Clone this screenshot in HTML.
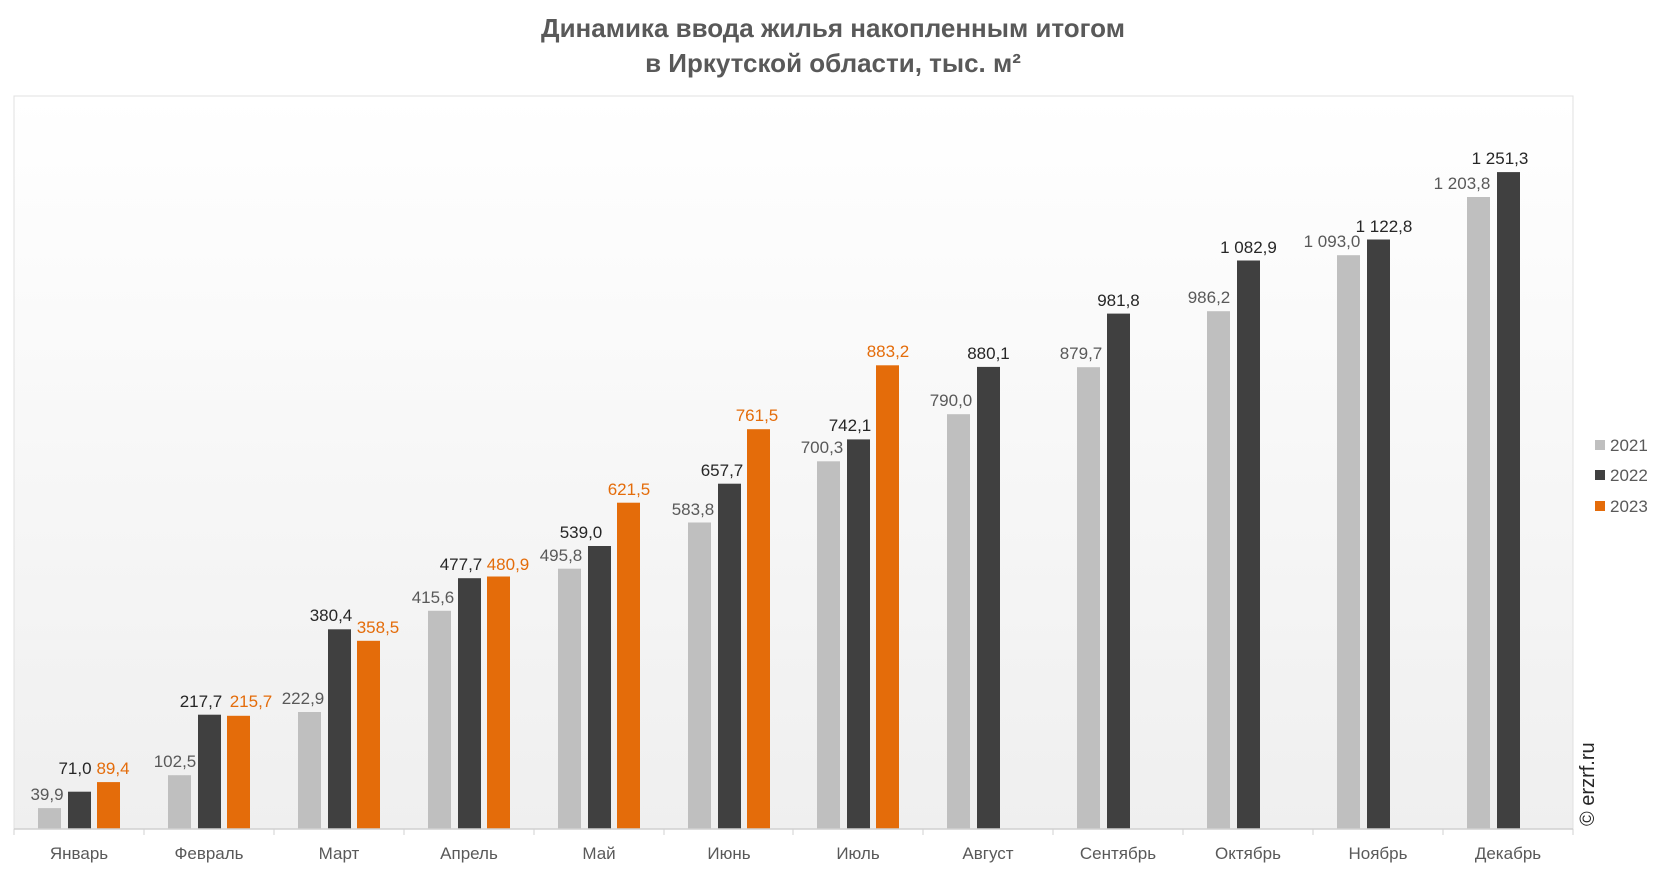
<!DOCTYPE html>
<html><head><meta charset="utf-8"><style>
html,body{margin:0;padding:0;background:#fff;}
svg{display:block;font-family:"Liberation Sans",sans-serif;}
</style></head><body>
<svg width="1666" height="872" viewBox="0 0 1666 872" xmlns="http://www.w3.org/2000/svg">
<defs><linearGradient id="bg" x1="0" y1="0" x2="0" y2="1"><stop offset="0" stop-color="#ffffff"/><stop offset="1" stop-color="#efefef"/></linearGradient></defs>
<rect x="0" y="0" width="1666" height="872" fill="#fff"/>
<text x="833" y="37" text-anchor="middle" font-size="26" font-weight="bold" fill="#595959">Динамика ввода жилья накопленным итогом</text>
<text x="833" y="72" text-anchor="middle" font-size="26" font-weight="bold" fill="#595959">в Иркутской области, тыс. м²</text>
<rect x="14" y="96" width="1559" height="733" fill="url(#bg)" stroke="#e0e0e0" stroke-width="1"/>
<g fill="#bfbfbf">
<rect x="38" y="808.1" width="23" height="20.9"/><rect x="168" y="775.2" width="23" height="53.8"/><rect x="298" y="712" width="23" height="117"/><rect x="428" y="610.8" width="23" height="218.2"/><rect x="558" y="568.7" width="23" height="260.3"/><rect x="688" y="522.5" width="23" height="306.5"/><rect x="817" y="461.3" width="23" height="367.7"/><rect x="947" y="414.2" width="23" height="414.8"/><rect x="1077" y="367.2" width="23" height="461.8"/><rect x="1207" y="311.2" width="23" height="517.8"/><rect x="1337" y="255.2" width="23" height="573.8"/><rect x="1467" y="197" width="23" height="632"/>
</g>
<g fill="#404040">
<rect x="68" y="791.7" width="23" height="37.3"/><rect x="198" y="714.7" width="23" height="114.3"/><rect x="328" y="629.3" width="23" height="199.7"/><rect x="458" y="578.2" width="23" height="250.8"/><rect x="588" y="546" width="23" height="283"/><rect x="718" y="483.7" width="23" height="345.3"/><rect x="847" y="439.4" width="23" height="389.6"/><rect x="977" y="366.9" width="23" height="462.1"/><rect x="1107" y="313.6" width="23" height="515.4"/><rect x="1237" y="260.5" width="23" height="568.5"/><rect x="1367" y="239.5" width="23" height="589.5"/><rect x="1497" y="172.1" width="23" height="656.9"/>
</g>
<g fill="#e46c0a">
<rect x="97" y="782.1" width="23" height="46.9"/><rect x="227" y="715.8" width="23" height="113.2"/><rect x="357" y="640.8" width="23" height="188.2"/><rect x="487" y="576.5" width="23" height="252.5"/><rect x="617" y="502.7" width="23" height="326.3"/><rect x="747" y="429.2" width="23" height="399.8"/><rect x="876" y="365.3" width="23" height="463.7"/>
</g>
<line x1="14" y1="829" x2="1573" y2="829" stroke="#d0d0d0" stroke-width="1.5"/>
<g stroke="#d0d0d0" stroke-width="1">
<line x1="14" y1="829" x2="14" y2="835"/><line x1="144" y1="829" x2="144" y2="835"/><line x1="274" y1="829" x2="274" y2="835"/><line x1="404" y1="829" x2="404" y2="835"/><line x1="534" y1="829" x2="534" y2="835"/><line x1="664" y1="829" x2="664" y2="835"/><line x1="793" y1="829" x2="793" y2="835"/><line x1="923" y1="829" x2="923" y2="835"/><line x1="1053" y1="829" x2="1053" y2="835"/><line x1="1183" y1="829" x2="1183" y2="835"/><line x1="1313" y1="829" x2="1313" y2="835"/><line x1="1443" y1="829" x2="1443" y2="835"/><line x1="1573" y1="829" x2="1573" y2="835"/>
</g>
<g font-size="17" text-anchor="middle" fill="#595959">
<text x="47" y="800">39,9</text><text x="175" y="767">102,5</text><text x="303" y="704">222,9</text><text x="433" y="603">415,6</text><text x="561" y="561">495,8</text><text x="693" y="515">583,8</text><text x="822" y="453">700,3</text><text x="951" y="406">790,0</text><text x="1081" y="359">879,7</text><text x="1209" y="303">986,2</text><text x="1332" y="247">1 093,0</text><text x="1462" y="189">1 203,8</text>
</g>
<g font-size="17" text-anchor="middle" fill="#262626">
<text x="75" y="774">71,0</text><text x="201" y="707">217,7</text><text x="331" y="621">380,4</text><text x="461" y="570">477,7</text><text x="581" y="538">539,0</text><text x="722" y="476">657,7</text><text x="850" y="431">742,1</text><text x="988.5" y="359">880,1</text><text x="1118.5" y="306">981,8</text><text x="1248.5" y="253">1 082,9</text><text x="1384" y="232">1 122,8</text><text x="1500" y="164">1 251,3</text>
</g>
<g font-size="17" text-anchor="middle" fill="#e46c0a">
<text x="113" y="774">89,4</text><text x="251" y="707">215,7</text><text x="378" y="633">358,5</text><text x="508" y="570">480,9</text><text x="629" y="495">621,5</text><text x="757" y="421">761,5</text><text x="888" y="357">883,2</text>
</g>
<g font-size="17" text-anchor="middle" fill="#595959">
<text x="79" y="859">Январь</text><text x="209" y="859">Февраль</text><text x="339" y="859">Март</text><text x="469" y="859">Апрель</text><text x="599" y="859">Май</text><text x="729" y="859">Июнь</text><text x="858" y="859">Июль</text><text x="988" y="859">Август</text><text x="1118" y="859">Сентябрь</text><text x="1248" y="859">Октябрь</text><text x="1378" y="859">Ноябрь</text><text x="1508" y="859">Декабрь</text>
</g>
<rect x="1595" y="440" width="10" height="10" fill="#bfbfbf"/><text x="1610" y="451" font-size="17" fill="#595959">2021</text>
<rect x="1595" y="470" width="10" height="10" fill="#404040"/><text x="1610" y="481" font-size="17" fill="#595959">2022</text>
<rect x="1595" y="501" width="10" height="10" fill="#e46c0a"/><text x="1610" y="512" font-size="17" fill="#595959">2023</text>
<text transform="translate(1594,826) rotate(-90)" font-size="20" fill="#262626">© erzrf.ru</text>
</svg>
</body></html>
